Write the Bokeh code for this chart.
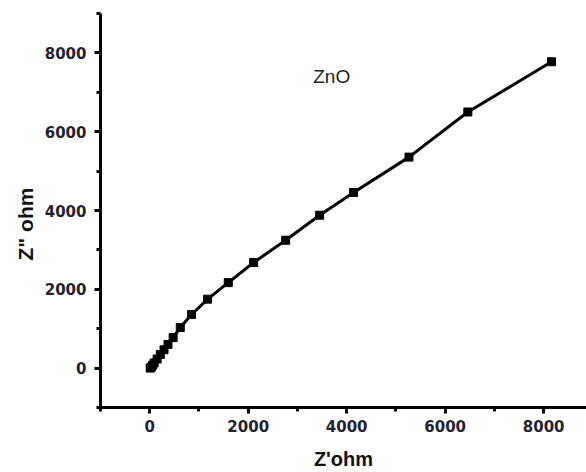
from bokeh.plotting import figure
from bokeh.models import SingleIntervalTicker, Range1d, Label, Title
from bokeh.embed import file_html
from bokeh.resources import INLINE

# Data (Z' and Z'' in ohm)
z_real = [10, 30, 55, 90, 150, 215, 290, 370, 475, 620, 850, 1175, 1595,
          2110, 2760, 3450, 4140, 5265, 6460, 8160]
z_imag = [0, 20, 70, 130, 230, 345, 465, 600, 775, 1030, 1360, 1750, 2170,
          2680, 3245, 3880, 4455, 5355, 6500, 7775]
series_label = "ZnO"
x_title = "Z'ohm"
y_title = 'Z" ohm'

p = figure(width=586, height=472, output_backend="svg", toolbar_location=None,
           x_range=Range1d(-1000, 8870), y_range=Range1d(-1000, 9000),
           min_border_left=100, min_border_right=0, min_border_top=13,
           min_border_bottom=63)
p.outline_line_color = None
p.xgrid.visible = False
p.ygrid.visible = False
p.background_fill_color = "white"
p.border_fill_color = "white"

p.line(z_real, z_imag, line_color="black", line_width=3)
p.scatter(z_real, z_imag, marker="square", size=8, fill_color="black",
          line_color="black")

for ax in (p.xaxis[0], p.yaxis[0]):
    ax.ticker = SingleIntervalTicker(interval=2000, num_minor_ticks=2)
    ax.axis_line_width = 3
    ax.axis_line_color = "black"
    ax.major_tick_line_width = 3
    ax.major_tick_in = 0
    ax.major_tick_out = 6
    ax.minor_tick_line_width = 3
    ax.minor_tick_in = 0
    ax.minor_tick_out = 4
    ax.major_label_text_font = "DejaVu Sans"
    ax.major_label_text_font_style = "bold"
    ax.major_label_text_font_size = "15px"
    ax.major_label_text_color = "#222233"
    ax.axis_label_text_font = "Liberation Sans"
    ax.axis_label_text_font_style = "bold"
    ax.axis_label_text_color = "#111111"

p.xaxis[0].axis_label = x_title
p.xaxis[0].axis_label_text_font_size = "20px"
p.xaxis[0].major_label_standoff = 6
p.yaxis[0].major_label_standoff = 8
p.xaxis[0].axis_label_standoff = 13

# y title as a side title so it can sit slightly below the frame centre
p.add_layout(Title(text=y_title, align="left", offset=147, standoff=10,
                   text_font="Liberation Sans", text_font_style="bold",
                   text_font_size="21px", text_color="#111111"), "left")

p.add_layout(Label(x=3695, y=7413, text=series_label, text_align="center",
                   text_baseline="middle", text_font="Liberation Sans",
                   text_font_size="19px", text_color="#222222"))

open("out.html", "w").write(file_html(p, INLINE))
